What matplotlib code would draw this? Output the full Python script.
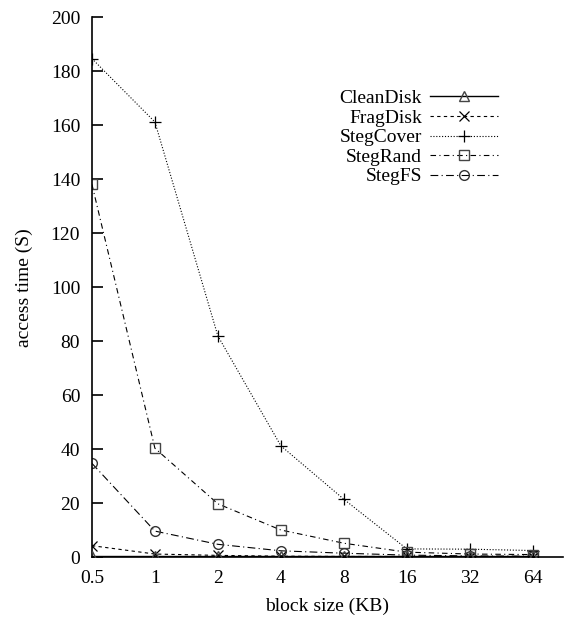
import numpy as np
import matplotlib
matplotlib.use("Agg")
import matplotlib.pyplot as plt
from matplotlib.ticker import FixedLocator, FixedFormatter, NullLocator

# block sizes (KB) and access times (S)
block_sizes = [0.5, 1, 2, 4, 8, 16, 32, 64]
tick_labels = ['0.5', '1', '2', '4', '8', '16', '32', '64']

clean_disk = [0.2, 0.2, 0.2, 0.2, 0.2, 0.2, 0.2, 0.2]
frag_disk = [4.2, 1.1, 0.6, 0.3, 0.2, 0.2, 0.1, 0.1]
steg_cover = [184.7, 161.2, 81.9, 41.2, 21.4, 3.0, 2.9, 2.4]
steg_rand = [138.1, 40.3, 19.7, 10.0, 5.1, 1.8, 1.1, 0.9]
steg_fs = [34.7, 9.6, 4.7, 2.3, 1.4, 0.7, 0.4, 0.3]

plt.rcParams['font.family'] = ['Liberation Serif', 'DejaVu Serif']
plt.rcParams['font.size'] = 14

fig = plt.figure(figsize=(5.71, 6.22), dpi=100)
ax = fig.add_axes([0.161, 0.1045, 0.825, 0.8677])

lw = 0.8
ms = 6.5
ax.plot(block_sizes, clean_disk, color='black', lw=1.0, ls='-',
        marker='^', ms=ms, mfc='none', mec='#444444', label='CleanDisk', zorder=3)
ax.plot(block_sizes, frag_disk, color='black', lw=lw, ls=(0, (3, 3)),
        marker='x', ms=ms, mew=0.9, label='FragDisk')
ax.plot(block_sizes, steg_cover, color='black', lw=lw, ls=(0, (1, 1.6)),
        marker='+', ms=ms + 1.5, mew=0.9, label='StegCover')
ax.plot(block_sizes, steg_rand, color='black', lw=lw, ls=(0, (5, 3, 1, 3)),
        marker='s', ms=ms, mfc='none', mec='#444444', label='StegRand')
ax.plot(block_sizes, steg_fs, color='black', lw=lw, ls=(0, (7, 3, 1, 3)),
        marker='o', ms=ms + 0.5, mfc='none', mec='#333333', label='StegFS')

ax.set_xscale('log', base=2)
ax.set_xlim(0.5, 64 * 2 ** 0.48)
ax.set_ylim(0, 200)
ax.xaxis.set_major_locator(FixedLocator(block_sizes))
ax.xaxis.set_major_formatter(FixedFormatter(tick_labels))
ax.xaxis.set_minor_locator(NullLocator())
ax.set_yticks(np.arange(0, 201, 20))

for side in ['top', 'right']:
    ax.spines[side].set_visible(False)
for side in ['left', 'bottom']:
    ax.spines[side].set_linewidth(1.2)

ax.tick_params(axis='y', direction='in', length=8, width=1.2, pad=8.5)
ax.tick_params(axis='x', direction='in', length=0, width=1.2, pad=9)

ax.set_xlabel('block size (KB)')
ax.set_ylabel('access time (S)')
ax.xaxis.set_label_coords(0.5, -0.075)
ax.yaxis.set_label_coords(-0.125, 0.5)

ax.legend(loc='upper right', bbox_to_anchor=(0.862, 0.866), frameon=False,
          markerfirst=False, numpoints=1, handlelength=3.5,
          handletextpad=0.4, labelspacing=0.1, borderpad=0, borderaxespad=0)

fig.savefig('out.png', dpi=100)
